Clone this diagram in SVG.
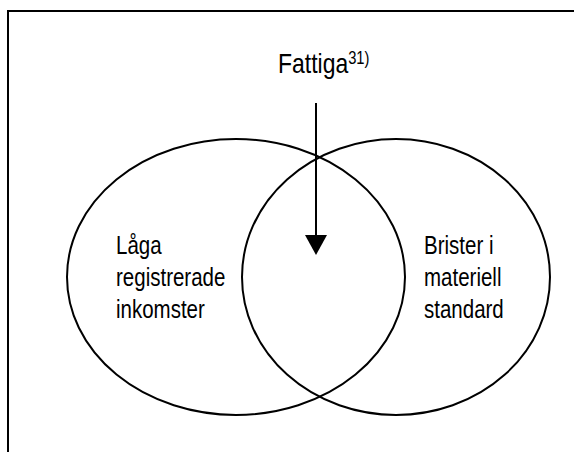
<svg xmlns="http://www.w3.org/2000/svg" width="574" height="452" viewBox="0 0 574 452">
<style>
.t{font-family:"Liberation Sans",Arial,sans-serif;fill:#000}
.b{font-size:25px}
.e{fill:none;stroke:#000;stroke-width:2}
</style>
<rect width="574" height="452" fill="#fff"/>
<path d="M8,460 L8,11 L580,11" fill="none" stroke="#000" stroke-width="2"/>
<g id="left-set">
<ellipse class="e" cx="236" cy="277" rx="169" ry="138"/>
<g transform="translate(116,0) scale(0.82,1)">
<text class="t b" x="0" y="254">Låga</text>
<text class="t b" x="0" y="286">registrerade</text>
<text class="t b" x="0" y="318">inkomster</text>
</g>
</g>
<g id="right-set">
<ellipse class="e" cx="396" cy="277" rx="154" ry="138"/>
<g transform="translate(424,0) scale(0.82,1)">
<text class="t b" x="0" y="254">Brister i</text>
<text class="t b" x="0" y="286">materiell</text>
<text class="t b" x="0" y="318">standard</text>
</g>
</g>
<g id="fattiga" transform="translate(278,0) scale(0.82,1)">
<text class="t" x="0" y="73" font-size="28">Fattiga<tspan font-size="18" dy="-9">31)</tspan></text>
</g>
<g id="connectors">
<line x1="316" y1="103" x2="316" y2="236" stroke="#000" stroke-width="2"/>
<path d="M305,235 L327,235 L316,255 Z" fill="#000"/>
</g>
</svg>
